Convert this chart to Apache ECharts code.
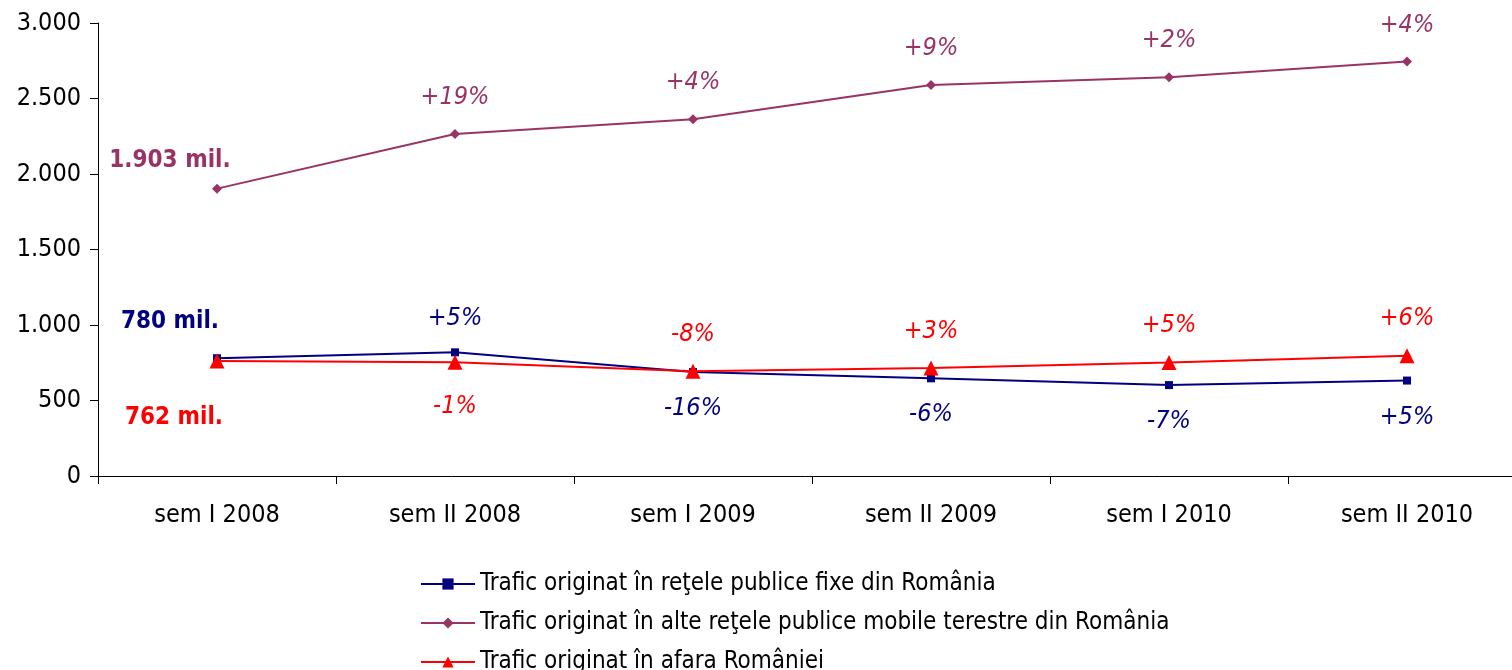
<!DOCTYPE html>
<html>
<head>
<meta charset="utf-8">
<script src="https://cdn.jsdelivr.net/npm/echarts@6/dist/echarts.min.js"></script>
<style>
  html, body { margin: 0; padding: 0; background: #fff; }
  #chart { width: 1512px; height: 670px; }
</style>
</head>
<body>
<div id="chart"></div>
<script>
// categorii (semestre)
const categories = ['sem I 2008', 'sem II 2008', 'sem I 2009', 'sem II 2009', 'sem I 2010', 'sem II 2010'];

// serii, milioane minute
const fixeValues = [780, 819, 688, 647, 602, 632];
const mobileValues = [1903, 2265, 2362, 2590, 2640, 2745];
const externValues = [762, 754, 694, 715, 751, 796];

// etichete de crestere
const fixeLabels = ['780 mil.', '+5%', '-16%', '-6%', '-7%', '+5%'];
const mobileLabels = ['1.903 mil.', '+19%', '+4%', '+9%', '+2%', '+4%'];
const externLabels = ['762 mil.', '-1%', '-8%', '+3%', '+5%', '+6%'];
const fixePos = ['top', 'top', 'bottom', 'bottom', 'bottom', 'bottom'];
const mobilePos = ['top', 'top', 'top', 'top', 'top', 'top'];
const externPos = ['bottom', 'bottom', 'top', 'top', 'top', 'top'];

const seriesNames = [
  'Trafic originat în reţele publice fixe din România',
  'Trafic originat în alte reţele publice mobile terestre din România',
  'Trafic originat în afara României'
];

const FONT = 'DejaVu Sans Condensed';

function buildData(values, labels, positions, color, distUp, distDown, firstOffset) {
  return values.map((v, i) => {
    let lbl = {
      show: true,
      formatter: labels[i],
      position: positions[i],
      distance: positions[i] === 'top' ? distUp : distDown,
      color: color,
      fontFamily: FONT,
      fontSize: 25,
      fontStyle: 'italic'
    };
    if (i === 0) {
      lbl.fontStyle = 'normal';
      lbl.fontWeight = 'bold';
      lbl.fontSize = 24;
      lbl.offset = firstOffset;
    }
    return { value: v, label: lbl };
  });
}

let myChart = echarts.init(document.getElementById('chart'));

let option = {
  animation: false,
  grid: { left: 98, width: 1428, top: 23, bottom: 194, outerBoundsMode: 'none' },
  legend: {
    orient: 'vertical',
    left: 420,
    top: 572,
    padding: 0,
    height: 160,
    itemWidth: 54,
    itemHeight: 14,
    itemGap: 15,
    textStyle: { fontFamily: FONT, fontSize: 24, lineHeight: 22, color: '#000' },
    data: seriesNames
  },
  xAxis: {
    type: 'category',
    data: categories,
    boundaryGap: true,
    axisLine: { lineStyle: { color: '#000', width: 1 } },
    axisTick: { show: true, length: 8, lineStyle: { color: '#000' } },
    axisLabel: { fontFamily: FONT, fontSize: 25, color: '#000', margin: 27 }
  },
  yAxis: {
    type: 'value',
    min: 0,
    max: 3000,
    interval: 500,
    splitLine: { show: false },
    axisLine: { show: true, lineStyle: { color: '#000', width: 1 } },
    axisTick: { show: true, length: 8, lineStyle: { color: '#000' } },
    axisLabel: {
      fontFamily: FONT,
      fontSize: 25,
      color: '#000',
      margin: 17,
      formatter: v => String(v).replace(/\B(?=(\d{3})+(?!\d))/g, '.')
    }
  },
  series: [
    {
      name: seriesNames[0],
      type: 'line',
      color: '#000080',
      symbol: 'rect',
      symbolSize: 8,
      lineStyle: { width: 2 },
      z: 3,
      data: buildData(fixeValues, fixeLabels, fixePos, '#000080', 17, 20, [-47, -3])
    },
    {
      name: seriesNames[1],
      type: 'line',
      color: '#993366',
      symbol: 'diamond',
      symbolSize: 10,
      lineStyle: { width: 2 },
      data: buildData(mobileValues, mobileLabels, mobilePos, '#993366', 19, 20, [-47, 8])
    },
    {
      name: seriesNames[2],
      type: 'line',
      color: '#ff0000',
      symbol: 'triangle',
      symbolSize: 15,
      lineStyle: { width: 2 },
      z: 4,
      data: buildData(externValues, externLabels, externPos, '#ff0000', 17, 24, [-43, 13])
    }
  ]
};

myChart.setOption(option);
</script>
</body>
</html>
